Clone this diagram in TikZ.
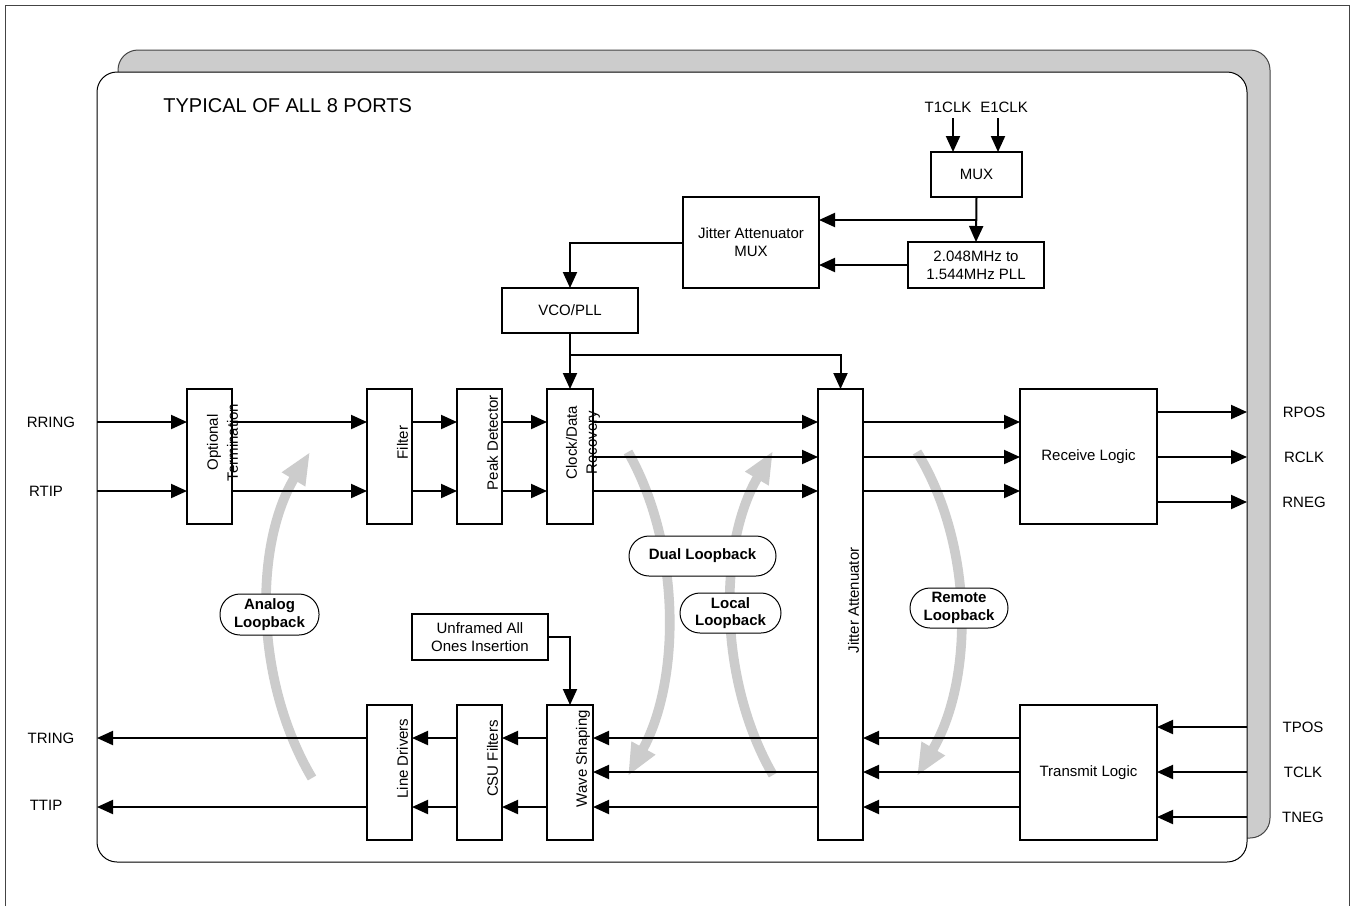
\documentclass[tikz,border=0pt]{standalone}
\usepackage{fontspec}
\setmainfont{Liberation Sans}
\usetikzlibrary{arrows.meta}
\usetikzlibrary{calc}
\usetikzlibrary{positioning}

\definecolor{loopgray}{HTML}{CCCCCC}
\definecolor{framegray}{HTML}{444444}

\tikzset{
  blk/.style={draw,line width=1pt,fill=white,inner sep=0pt,outer sep=0pt,align=center,font=\fontsize{7.5}{9}\selectfont},
  sz/.style 2 args={minimum width=#1*0.5pt,minimum height=#2*0.5pt},
  vtxt/.style={rotate=90,align=center,inner sep=0pt,font=\fontsize{7.5}{10}\selectfont},
  sig/.style={inner sep=0pt,font=\fontsize{7.5}{9}\selectfont},
  pill/.style={draw,line width=0.5pt,fill=white,rounded corners=10pt,inner sep=0pt,align=center,font=\bfseries\fontsize{7.5}{8.8}\selectfont},
  lbarrow/.style={line width=4.8pt,draw=loopgray,-{Triangle[length=16pt,width=12.5pt]}},
  conn/.style={draw,line width=1pt,-{Triangle[length=8pt,width=7pt]}},
}

\begin{document}
\begin{tikzpicture}[x=0.5pt,y=-0.5pt]

  \useasboundingbox (0,0) rectangle (1359,906);
  \draw [framegray,line width=0.5pt] (5,906) -- (5,5) -- (1349,5) -- (1349,906);

  \node [draw=framegray,fill=loopgray,rounded corners=10pt,line width=0.5pt,outer sep=0pt,sz={1152}{788}] (shadow) at (694,444) {};
  \node [draw,fill=white,rounded corners=10pt,line width=0.5pt,outer sep=0pt,sz={1150}{790}] (port) at (672,467) {};

  \node [anchor=west,inner sep=0pt,font=\fontsize{10}{12}\selectfont] (title) at (163,106) {TYPICAL OF ALL 8 PORTS};

  \coordinate (rx1) at (0,422);
  \coordinate (rx2) at (0,457);
  \coordinate (rx3) at (0,491);
  \coordinate (ro1) at (0,412);
  \coordinate (ro2) at (0,457);
  \coordinate (ro3) at (0,502);
  \coordinate (tx1) at (0,738);
  \coordinate (tx2) at (0,772);
  \coordinate (tx3) at (0,807);
  \coordinate (ti1) at (0,727);
  \coordinate (ti2) at (0,772);
  \coordinate (ti3) at (0,817);
  \coordinate (clkrow) at (0,220);
  \coordinate (taprow) at (0,355);

  \coordinate (anaS) at (312,778);
  \coordinate (anaE) at (310,452);
  \coordinate (dualS) at (628,452);
  \coordinate (dualE) at (628,776);
  \coordinate (locS) at (773,775);
  \coordinate (locE) at (773,451);
  \coordinate (remS) at (917,452);
  \coordinate (remE) at (917,776);

  \draw [lbarrow] (anaS) .. controls (254,680) and (254,545) .. (anaE);
  \draw [lbarrow] (dualS) .. controls (681,545) and (681,680) .. (dualE);
  \draw [lbarrow] (locS) .. controls (718,680) and (718,545) .. (locE);
  \draw [lbarrow] (remS) .. controls (974,545) and (974,680) .. (remE);

  \node [blk,sz={45}{135}] (ot) at (209.5,456.5) {};
  \node [blk,sz={45}{135}] (filt) at (389.5,456.5) {};
  \node [blk,sz={45}{135}] (peak) at (479.5,456.5) {};
  \node [blk,sz={46}{135}] (cdr) at (570,456.5) {};
  \node [blk,sz={45}{451}] (ja) at (840.5,614.5) {};
  \node [blk,sz={137}{135}] (rxl) at (1088.5,456.5) {Receive Logic};
  \node [blk,sz={137}{135}] (txl) at (1088.5,772.5) {Transmit Logic};
  \node [blk,sz={45}{135}] (ld) at (389.5,772.5) {};
  \node [blk,sz={45}{135}] (csu) at (479.5,772.5) {};
  \node [blk,sz={46}{135}] (ws) at (570,772.5) {};
  \node [blk,sz={136}{46}] (uaoi) at (480,637) {Unframed All\\Ones Insertion};

  \node [vtxt] (ottxt) at ($(ot.center)+(13,-14)$) {Optional\\Termination};
  \node [vtxt] (filttxt) at ($(filt.center)+(13,-14)$) {Filter};
  \node [vtxt] (peaktxt) at ($(peak.center)+(13,-14)$) {Peak Detector};
  \node [vtxt] (cdrtxt) at ($(cdr.center)+(13,-14)$) {Clock/Data\\Recovery};
  \node [vtxt] (jatxt) at ($(ja.center)+(13,-14)$) {Jitter Attenuator};
  \node [vtxt] (ldtxt) at ($(ld.center)+(13,-14)$) {Line Drivers};
  \node [vtxt] (csutxt) at ($(csu.center)+(13,-14)$) {CSU Filters};
  \node [vtxt] (wstxt) at ($(ws.center)+(13,-14)$) {Wave Shaping};

  \node [blk,sz={91}{45}] (mux) at (976.5,174.5) {MUX};
  \node [blk,sz={136}{91}] (jamux) at (751,242.5) {Jitter Attenuator\\MUX};
  \node [blk,sz={136}{46}] (pll) at (976,265) {2.048MHz to\\1.544MHz PLL};
  \node [blk,sz={136}{45}] (vco) at (570,310.5) {VCO/PLL};

  \node [sig] (t1clk) at (948,107) {T1CLK};
  \node [sig] (e1clk) at (1004,107) {E1CLK};
  \coordinate (t1in) at (953,118);
  \coordinate (e1in) at (998,118);

  \node [sig] (rring) at (51,422) {RRING};
  \node [sig] (rtip) at (46,491) {RTIP};
  \node [sig] (tring) at (51,738) {TRING};
  \node [sig] (ttip) at (46,805) {TTIP};
  \node [sig] (rpos) at (1304,412) {RPOS};
  \node [sig] (rclk) at (1304,457) {RCLK};
  \node [sig] (rneg) at (1304,502) {RNEG};
  \node [sig] (tpos) at (1303,727) {TPOS};
  \node [sig] (tclk) at (1303,772) {TCLK};
  \node [sig] (tneg) at (1303,817) {TNEG};

  \path [every edge/.style=conn]
    (port.west |- rx1) edge (ot.west |- rx1)
    (port.west |- rx3) edge (ot.west |- rx3)
    (ot.east |- rx1)   edge (filt.west |- rx1)
    (ot.east |- rx3)   edge (filt.west |- rx3)
    (filt.east |- rx1) edge (peak.west |- rx1)
    (filt.east |- rx3) edge (peak.west |- rx3)
    (peak.east |- rx1) edge (cdr.west |- rx1)
    (peak.east |- rx3) edge (cdr.west |- rx3)
    (cdr.east |- rx1)  edge (ja.west |- rx1)
    (cdr.east |- rx2)  edge (ja.west |- rx2)
    (cdr.east |- rx3)  edge (ja.west |- rx3)
    (ja.east |- rx1)   edge (rxl.west |- rx1)
    (ja.east |- rx2)   edge (rxl.west |- rx2)
    (ja.east |- rx3)   edge (rxl.west |- rx3)
    (rxl.east |- ro1)  edge (port.east |- ro1)
    (rxl.east |- ro2)  edge (port.east |- ro2)
    (rxl.east |- ro3)  edge (port.east |- ro3);

  \path [every edge/.style=conn]
    (port.east |- ti1) edge (txl.east |- ti1)
    (port.east |- ti2) edge (txl.east |- ti2)
    (port.east |- ti3) edge (txl.east |- ti3)
    (txl.west |- tx1)  edge (ja.east |- tx1)
    (txl.west |- tx2)  edge (ja.east |- tx2)
    (txl.west |- tx3)  edge (ja.east |- tx3)
    (ja.west |- tx1)   edge (ws.east |- tx1)
    (ja.west |- tx2)   edge (ws.east |- tx2)
    (ja.west |- tx3)   edge (ws.east |- tx3)
    (ws.west |- tx1)   edge (csu.east |- tx1)
    (ws.west |- tx3)   edge (csu.east |- tx3)
    (csu.west |- tx1)  edge (ld.east |- tx1)
    (csu.west |- tx3)  edge (ld.east |- tx3)
    (ld.west |- tx1)   edge (port.west |- tx1)
    (ld.west |- tx3)   edge (port.west |- tx3);

  \path [every edge/.style=conn]
    (t1in) edge (t1in |- mux.north)
    (e1in) edge (e1in |- mux.north)
    (mux.south) edge (pll.north)
    (mux.south |- clkrow) edge (jamux.east |- clkrow)
    (pll.west) edge (jamux.east |- pll.west)
    (vco.south) edge (cdr.north);

  \draw [conn] (jamux.west) -| (vco.north);
  \draw [conn] (vco.south |- taprow) -| (ja.north);
  \draw [conn] (uaoi.east) -| (ws.north);

  \node [pill,sz={99}{41}] (analog) at (269.5,614.5) {Analog\\Loopback};
  \node [pill,sz={147}{40}] (dual) at (702.5,556) {Dual Loopback};
  \node [pill,sz={101}{40}] (local) at (730.5,613) {Local\\Loopback};
  \node [pill,sz={98}{40}] (remote) at (959,608) {Remote\\Loopback};

\end{tikzpicture}
\end{document}
